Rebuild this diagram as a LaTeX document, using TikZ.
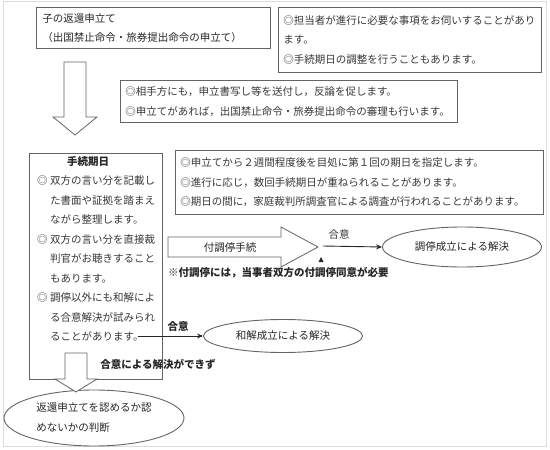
\documentclass[tikz,border=0pt]{standalone}
\usepackage{fontspec}
\setmainfont{Noto Sans CJK JP}
\usetikzlibrary{arrows.meta, positioning, shapes.geometric}
\definecolor{frameGray}{RGB}{100,100,100}
\definecolor{textGray}{RGB}{55,55,55}
\definecolor{edgeGray}{RGB}{220,220,220}
\newcommand{\basefont}{\fontsize{10.5}{19.5}\selectfont}
\newcommand{\kmark}{\makebox[13pt][l]{◎}}
\newcommand{\kgap}{\hspace*{13pt}}

\begin{document}
\begin{tikzpicture}[
    x=1pt, y=-1pt,
    font=\basefont,
    infobox/.style={rectangle, draw=frameGray, line width=0.9pt, anchor=north west, align=left, inner ysep=0pt, text=textGray},
    gothic/.style={text=black!85},
    bold/.style={font=\basefont\bfseries, text=black!85},
    result/.style={ellipse, draw=frameGray, line width=0.9pt, inner sep=0pt, text=black!85},
    blockarr/.style={draw=frameGray, line width=0.8pt, fill=white, line join=miter},
    arr/.style={-{Stealth[length=6pt, width=5pt]}, line width=0.9pt, black!85}
  ]
  \useasboundingbox (0,0) rectangle (550,450);
  \draw[edgeGray, line width=0.8pt] (3,1) rectangle (546,446);

  % application and first remarks
  \node[infobox, gothic, minimum width=234pt, minimum height=41pt, text width=222pt, inner xsep=6pt] (petition) at (36,7)
    {子の返還申立て\\（出国禁止命令・旅券提出命令の申立て）};
  \node[infobox, minimum width=263pt, minimum height=65pt, text width=253pt, inner xsep=5pt] (staffNote) at (278,7)
    {◎担当者が進行に必要な事項をお伺いすることがあり\\ます。\\◎手続期日の調整を行うこともあります。};
  \draw[blockarr] (64,62) -- (86,62) -- (86,117) -- (97,117) -- (75,135) -- (53,117) -- (64,117) -- cycle;
  \node[infobox, minimum width=337pt, minimum height=42pt, text width=327pt, inner xsep=5pt] (serveNote) at (120,80)
    {◎相手方にも，申立書写し等を送付し，反論を促します。\\◎申立てがあれば，出国禁止命令・旅券提出命令の審理も行います。};

  % hearing dates
  \node[infobox, minimum width=133pt, minimum height=226pt] (kijitsu) at (29,153) {};
  \node[anchor=north west, align=left, inner sep=0pt, text=textGray] (kijitsuText) at (37,156)
    {\hspace*{30pt}{\bfseries\color{black!85}手続期日}\\
     \kmark 双方の言い分を記載し\\
     \kgap た書面や証拠を踏まえ\\
     \kgap ながら整理します。\\
     \kmark 双方の言い分を直接裁\\
     \kgap 判官がお聴きすること\\
     \kgap もあります。\\
     \kmark 調停以外にも和解によ\\
     \kgap る合意解決が試みられ\\
     \kgap ることがあります。};
  \node[infobox, minimum width=368pt, minimum height=64pt, text width=358pt, inner xsep=5pt] (dateNote) at (175,150)
    {◎申立てから２週間程度後を目処に第１回の期日を指定します。\\◎進行に応じ，数回手続期日が重ねられることがあります。\\◎期日の間に，家庭裁判所調査官による調査が行われることがあります。};

  % mediation
  \draw[blockarr] (168,237) -- (281,237) -- (281,227) -- (318,247) -- (281,267) -- (281,257) -- (168,257) -- cycle;
  \node[gothic] (fuchotei) at (230,248) {付調停手続};
  \node[result, minimum width=159pt, minimum height=40pt] (chotei) at (462,247) {調停成立による解決};
  \coordinate (choteiStart) at (323,246);
  \draw[arr] (choteiStart) -- (chotei.west);
  \node[text=textGray] (choteiAgree) at (339,235) {合意};
  \fill[black!85] (318.5,262) -- (323.5,262) -- (321,257) -- cycle;
  \node[bold, anchor=west, inner xsep=0pt] (consentNote) at (168,273) {※付調停には，当事者双方の付調停同意が必要};

  % settlement
  \node[result, minimum width=159pt, minimum height=33pt] (wakai) at (283,336) {和解成立による解決};
  \coordinate (wakaiStart) at (138,336);
  \draw[arr] (wakaiStart) -- (wakai.west);
  \node[bold] (wakaiAgree) at (178,327) {合意};

  % no agreement
  \node[bold] (noAgree) at (158,364) {合意による解決ができず};
  \node[result, minimum width=180pt, minimum height=56pt, align=left, font=\fontsize{10.5}{20}\selectfont] (handan) at (94,418)
    {返還申立てを認めるか認\\めないかの判断};
  \draw[blockarr] (65,353) -- (87,353) -- (87,379) -- (97,379) -- (76,392) -- (55,379) -- (65,379) -- cycle;
\end{tikzpicture}
\end{document}
